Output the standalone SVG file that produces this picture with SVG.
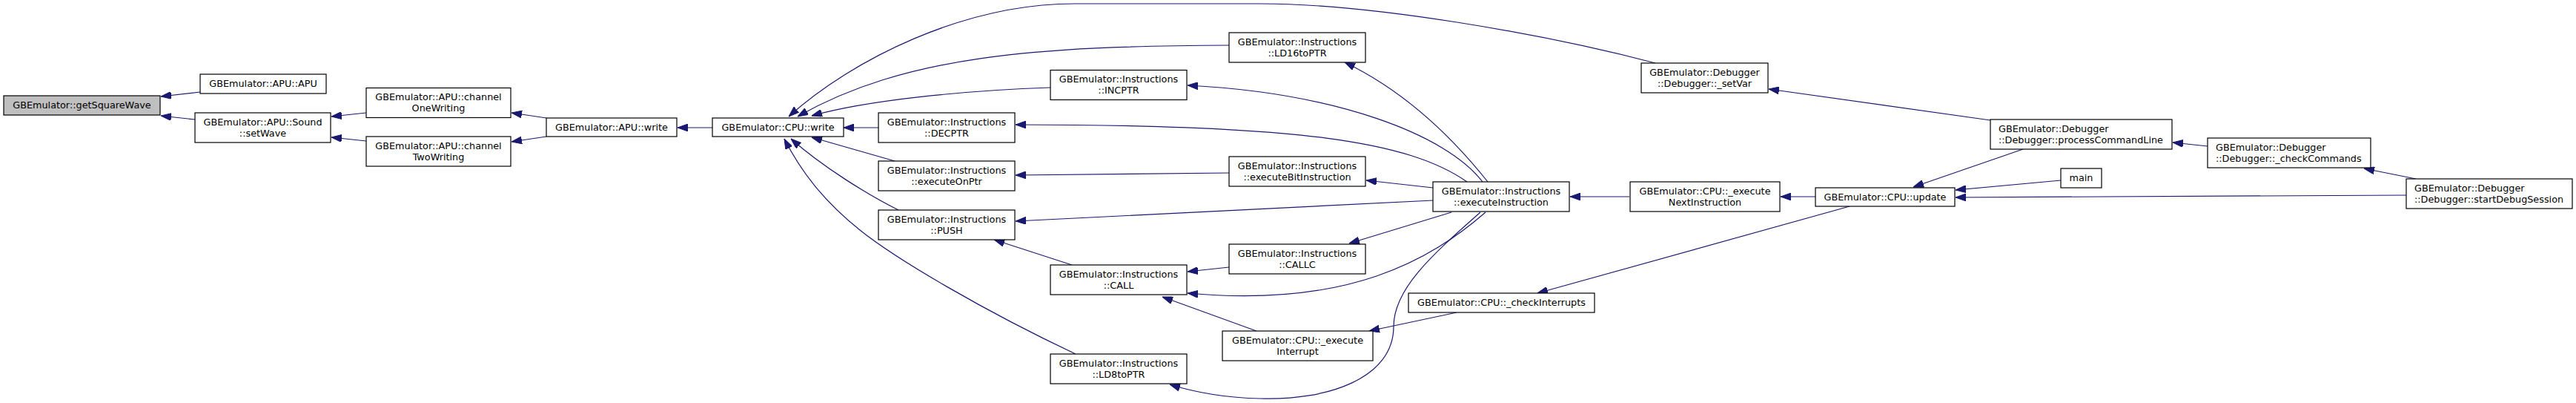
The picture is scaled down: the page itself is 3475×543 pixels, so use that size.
<svg xmlns="http://www.w3.org/2000/svg" width="3475" height="543" viewBox="0 0 3475 543">
<style>
.n rect{fill:#ffffff;stroke:#000000;stroke-width:1.2}
.root rect{fill:#bfbfbf}
.n text{font-family:"DejaVu Sans",sans-serif;font-size:12.8px;fill:#000000;text-anchor:middle}
.n text.l{text-anchor:start}
#edges path{fill:none;stroke:#191970;stroke-width:1.2;marker-end:url(#ah)}
</style>
<defs>
<marker id="ah" markerUnits="userSpaceOnUse" markerWidth="14" markerHeight="10" refX="14" refY="5" orient="auto" viewBox="0 0 14 10">
<path d="M0,0 L14,5 L0,10 z" fill="#191970" stroke="#191970" stroke-width="1"/>
</marker>
</defs>
<rect width="3475" height="543" fill="#ffffff"/>
<g id="edges">
<path d="M270,124 L217,130"/>
<path d="M263,161 L217,156"/>
<path d="M494,152 L447,157"/>
<path d="M494,190 L447,185"/>
<path d="M737,159 L690,152"/>
<path d="M737,184 L690,191"/>
<path d="M961,172 L914,172"/>
<path d="M2233,85 C2080,45 1850,5 1700,5 L1450,5 C1300,5 1150,80 1064,157"/>
<path d="M1658,61 C1400,62 1220,75 1076,157"/>
<path d="M1417,118 C1300,122 1170,135 1095,156"/>
<path d="M1185,172 L1138,172"/>
<path d="M1207,217 L1095,185"/>
<path d="M1212,283 C1170,262 1110,225 1067,187"/>
<path d="M1451,477 C1330,420 1210,350 1160,310 C1110,270 1080,230 1058,187"/>
<path d="M2007,245 C1975,205 1910,130 1814,84"/>
<path d="M2000,245 C1950,180 1800,125 1602,115"/>
<path d="M1979,245 C1900,190 1750,168 1370,168"/>
<path d="M1658,233 L1370,236"/>
<path d="M1933,253 L1843,243"/>
<path d="M1933,270 L1370,298"/>
<path d="M1446,357 L1341,323"/>
<path d="M1658,360 L1602,366"/>
<path d="M2004,286 C1930,350 1820,415 1602,395"/>
<path d="M1695,446 L1568,400"/>
<path d="M1958,286 L1820,328"/>
<path d="M1997,286 C1930,345 1880,390 1880,440 C1880,510 1790,540 1700,537 C1650,536 1610,528 1578,518"/>
<path d="M1965,421 L1847,446"/>
<path d="M2198,265 L2118,265"/>
<path d="M2449,265 L2402,265"/>
<path d="M2495,278 L2074,395"/>
<path d="M2729,201 L2581,252"/>
<path d="M2780,243 L2638,256"/>
<path d="M3246,263 L2638,266"/>
<path d="M2978,197 L2931,192"/>
<path d="M3259,241 L3189,227"/>
<path d="M2685,162 L2386,120"/>
</g>
<g id="getSquareWave" class="n root"><rect x="5" y="129" width="211" height="26"/><text x="110.5" y="146.3">GBEmulator::getSquareWave</text></g>
<g id="apu_ctor" class="n"><rect x="270" y="100" width="170" height="26"/><text x="355" y="117.3">GBEmulator::APU::APU</text></g>
<g id="setWave" class="n"><rect x="263" y="152" width="183" height="40"/><text x="354.5" y="168.5">GBEmulator::APU::Sound</text><text x="354.5" y="183.5">::setWave</text></g>
<g id="channelOneWriting" class="n"><rect x="494" y="118.5" width="195" height="40"/><text x="591.5" y="135">GBEmulator::APU::channel</text><text x="591.5" y="150">OneWriting</text></g>
<g id="channelTwoWriting" class="n"><rect x="494" y="184" width="195" height="40"/><text x="591.5" y="200.5">GBEmulator::APU::channel</text><text x="591.5" y="215.5">TwoWriting</text></g>
<g id="apu_write" class="n"><rect x="737" y="159" width="176" height="25"/><text x="825" y="176">GBEmulator::APU::write</text></g>
<g id="cpu_write" class="n"><rect x="961" y="159" width="177" height="25"/><text x="1049.5" y="176">GBEmulator::CPU::write</text></g>
<g id="DECPTR" class="n"><rect x="1185" y="152" width="184" height="40"/><text x="1277" y="168.5">GBEmulator::Instructions</text><text x="1277" y="183.5">::DECPTR</text></g>
<g id="executeOnPtr" class="n"><rect x="1185" y="217" width="184" height="40"/><text x="1277" y="233.5">GBEmulator::Instructions</text><text x="1277" y="248.5">::executeOnPtr</text></g>
<g id="PUSH" class="n"><rect x="1185" y="283" width="184" height="40"/><text x="1277" y="299.5">GBEmulator::Instructions</text><text x="1277" y="314.5">::PUSH</text></g>
<g id="INCPTR" class="n"><rect x="1417" y="94.5" width="184" height="40"/><text x="1509" y="111">GBEmulator::Instructions</text><text x="1509" y="126">::INCPTR</text></g>
<g id="CALL" class="n"><rect x="1417" y="357" width="184" height="40"/><text x="1509" y="373.5">GBEmulator::Instructions</text><text x="1509" y="388.5">::CALL</text></g>
<g id="LD8toPTR" class="n"><rect x="1417" y="477" width="184" height="40"/><text x="1509" y="493.5">GBEmulator::Instructions</text><text x="1509" y="508.5">::LD8toPTR</text></g>
<g id="LD16toPTR" class="n"><rect x="1658" y="44" width="184" height="40"/><text x="1750" y="60.5">GBEmulator::Instructions</text><text x="1750" y="75.5">::LD16toPTR</text></g>
<g id="executeBitInstruction" class="n"><rect x="1658" y="211" width="184" height="40"/><text x="1750" y="227.5">GBEmulator::Instructions</text><text x="1750" y="242.5">::executeBitInstruction</text></g>
<g id="CALLC" class="n"><rect x="1658" y="329" width="184" height="40"/><text x="1750" y="345.5">GBEmulator::Instructions</text><text x="1750" y="360.5">::CALLC</text></g>
<g id="executeInterrupt" class="n"><rect x="1649" y="446" width="203" height="40"/><text x="1750.5" y="462.5">GBEmulator::CPU::_execute</text><text x="1750.5" y="477.5">Interrupt</text></g>
<g id="executeInstruction" class="n"><rect x="1933" y="245" width="184" height="40"/><text x="2025" y="261.5">GBEmulator::Instructions</text><text x="2025" y="276.5">::executeInstruction</text></g>
<g id="checkInterrupts" class="n"><rect x="1900" y="395" width="251" height="26"/><text x="2025.5" y="412.3">GBEmulator::CPU::_checkInterrupts</text></g>
<g id="setVar" class="n"><rect x="2214" y="85" width="171" height="40"/><text x="2299.5" y="101.5">GBEmulator::Debugger</text><text x="2299.5" y="116.5">::Debugger::_setVar</text></g>
<g id="executeNextInstruction" class="n"><rect x="2199" y="245" width="202" height="40"/><text x="2300" y="261.5">GBEmulator::CPU::_execute</text><text x="2300" y="276.5">NextInstruction</text></g>
<g id="update" class="n"><rect x="2449" y="253" width="188" height="25"/><text x="2543" y="270">GBEmulator::CPU::update</text></g>
<g id="processCommandLine" class="n"><rect x="2685" y="161" width="245" height="40"/><text class="l" x="2696" y="177.5">GBEmulator::Debugger</text><text class="l" x="2696" y="192.5">::Debugger::processCommandLine</text></g>
<g id="main" class="n"><rect x="2780" y="227" width="55" height="26"/><text x="2807.5" y="244.3">main</text></g>
<g id="checkCommands" class="n"><rect x="2978" y="186" width="220" height="40"/><text class="l" x="2989" y="202.5">GBEmulator::Debugger</text><text class="l" x="2989" y="217.5">::Debugger::_checkCommands</text></g>
<g id="startDebugSession" class="n"><rect x="3246" y="241" width="224" height="40"/><text class="l" x="3257" y="257.5">GBEmulator::Debugger</text><text class="l" x="3257" y="272.5">::Debugger::startDebugSession</text></g>
</svg>
